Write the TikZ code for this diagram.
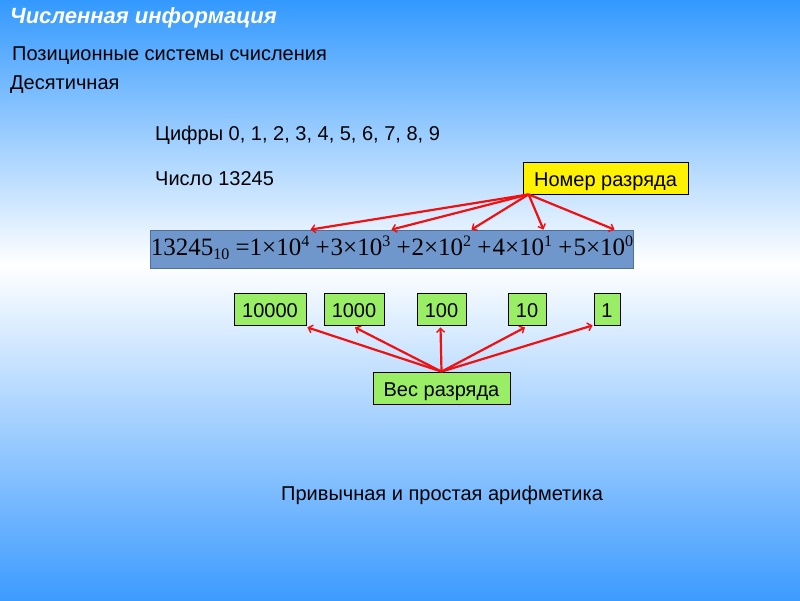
\documentclass[tikz,border=0pt]{standalone}
\usepackage{fontspec}
\setmainfont{Liberation Sans}
\newfontfamily\serifF{Liberation Serif}
\usetikzlibrary{arrows.meta,calc}
\definecolor{bgblue}{HTML}{3399FF}
\definecolor{bgblue2}{HTML}{3D9BFF}
\definecolor{fbox}{HTML}{6F97CB}
\definecolor{fboxb}{HTML}{4E6F99}
\definecolor{gbox}{HTML}{99EE66}
\definecolor{arr}{HTML}{F01010}
\newcommand{\sx}[1]{\raisebox{9pt}{\fontsize{16}{16}\selectfont #1}}
\newcommand{\sbx}[1]{\raisebox{-4.4pt}{\fontsize{16}{16}\selectfont #1}}
\begin{document}
\begin{tikzpicture}[x=1pt,y=-1pt,
  txt/.style={anchor=west,inner sep=0pt,font=\fontsize{20}{24}\selectfont},
  lab/.style={draw=black,line width=0.8pt,inner sep=0pt,text height=17pt,text depth=0pt,font=\fontsize{20}{24}\selectfont},
  wbox/.style={lab,fill=gbox,minimum height=32pt},
  conn/.style={draw=arr,line width=2.2pt,-{Straight Barb[length=4pt,width=8pt,line width=1.4pt]}}]
\useasboundingbox (0,0) rectangle (800,600);
\shade[top color=bgblue,bottom color=white] (0,0) rectangle (800,265);
\shade[top color=white,bottom color=bgblue2] (0,265) rectangle (800,600);
\node[txt,text=white,font=\fontsize{22}{26}\selectfont\bfseries\itshape] (title) at (10,18) {Численная информация};
\node[txt] (pos) at (12,56) {Позиционные системы счисления};
\node[txt] (dec) at (10,85) {Десятичная};
\node[txt] (dig) at (155,135) {Цифры 0, 1, 2, 3, 4, 5, 6, 7, 8, 9};
\node[txt] (num) at (155,179) {Число 13245};
\node[txt] (ar) at (281,495) {Привычная и простая арифметика};
\node[lab,fill=yellow,minimum width=165pt,minimum height=32pt] (yel) at (605.5,178) {Номер разряда};
\node[draw=fboxb,line width=0.8pt,fill=fbox,minimum width=482pt,minimum height=38pt,inner sep=0pt,text height=12.5pt,text depth=0pt,font=\serifF\fontsize{25}{28}\selectfont] (form) at (392,249)
 {13245\sbx{10} =1\texttimes10\sx{4} +\kern1pt3\texttimes10\sx{3} +\kern1pt2\texttimes10\sx{2} +\kern1pt4\texttimes10\sx{1} +\kern1pt5\texttimes10\sx{0}};
\node[wbox,minimum width=72pt] (g1) at (270,309) {10000};
\node[wbox,minimum width=60pt] (g2) at (354,309) {1000};
\node[wbox,minimum width=49pt] (g3) at (441.5,309) {100};
\node[wbox,minimum width=38pt] (g4) at (527,309) {10};
\node[wbox,minimum width=26pt] (g5) at (607,309) {1};
\node[wbox,minimum width=137pt] (ves) at (441.5,388) {Вес разряда};
\coordinate (ys) at ($(yel.south west)+(6,0)$);
\foreach \d in {160,241,321,393,464}
  \draw[conn] (ys) -- ($(form.north west)+(\d,0)$);
\coordinate (vs) at (ves.north);
\draw[conn] (vs) -- ($(g1.south east)+(1,2)$);
\draw[conn] (vs) -- ($(g2.south)+(1,2)$);
\draw[conn] (vs) -- ($(g3.south)+(-1,2)$);
\draw[conn] (vs) -- ($(g4.south)+(-2,2)$);
\draw[conn] (vs) -- ($(g5.south west)+(-1,0)$);
\end{tikzpicture}
\end{document}
